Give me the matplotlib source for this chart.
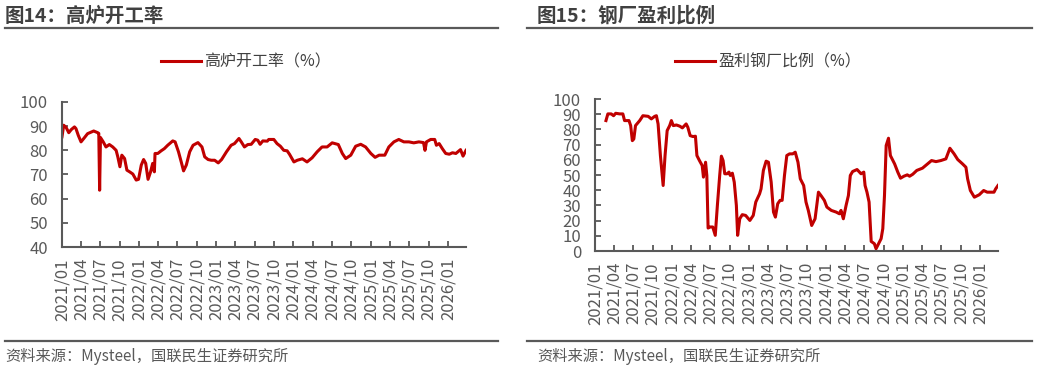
"""Blast furnace utilisation and share of profitable steel mills (two panels)."""

import matplotlib.pyplot as plt
import matplotlib.dates as mdates
import pandas as pd
from matplotlib.lines import Line2D

plt.rcParams["font.family"] = ["Noto Sans CJK SC", "DejaVu Sans"]

# ---- data ----
bf_dates = [
    "2021-01-01", "2021-01-09", "2021-01-21", "2021-02-02", "2021-02-14", "2021-03-01",
    "2021-03-08", "2021-03-19", "2021-04-01", "2021-04-14", "2021-05-02", "2021-05-31",
    "2021-06-19", "2021-06-24", "2021-06-28", "2021-07-02", "2021-07-15", "2021-07-28",
    "2021-08-13", "2021-08-29", "2021-09-14", "2021-09-22", "2021-10-02", "2021-10-11",
    "2021-10-24", "2021-11-04", "2021-11-17", "2021-12-02", "2021-12-18", "2021-12-29",
    "2022-01-11", "2022-01-22", "2022-02-01", "2022-02-12", "2022-02-24", "2022-03-06",
    "2022-03-14", "2022-03-17", "2022-03-30", "2022-04-15", "2022-04-30", "2022-05-16",
    "2022-06-09", "2022-06-20", "2022-07-06", "2022-07-19", "2022-07-30", "2022-08-12",
    "2022-08-28", "2022-09-13", "2022-10-06", "2022-10-25", "2022-11-07", "2022-11-23",
    "2022-12-08", "2022-12-24", "2023-01-10", "2023-01-26", "2023-02-18", "2023-03-12",
    "2023-03-28", "2023-04-18", "2023-04-29", "2023-05-14", "2023-05-30", "2023-06-15",
    "2023-07-04", "2023-07-16", "2023-07-27", "2023-08-09", "2023-08-30", "2023-09-06",
    "2023-09-30", "2023-10-15", "2023-10-31", "2023-11-16", "2023-12-02", "2023-12-13",
    "2024-01-03", "2024-01-19", "2024-02-12", "2024-03-05", "2024-03-29", "2024-04-22",
    "2024-05-15", "2024-06-08", "2024-07-02", "2024-07-31", "2024-08-19", "2024-09-04",
    "2024-09-28", "2024-10-21", "2024-11-14", "2024-12-07", "2025-01-01", "2025-01-21",
    "2025-02-09", "2025-03-08", "2025-03-27", "2025-04-20", "2025-05-13", "2025-06-06",
    "2025-06-30", "2025-07-23", "2025-08-16", "2025-09-07", "2025-09-14", "2025-09-21",
    "2025-10-11", "2025-10-30", "2025-11-07", "2025-11-20", "2025-12-05", "2025-12-21",
    "2026-01-07", "2026-01-22", "2026-02-07", "2026-03-01", "2026-03-13", "2026-03-27",
]
bf_rate = [
    85.6, 90.4, 89.4, 87.3, 88.6, 89.7,
    89.0, 86.2, 83.5, 84.9, 86.9, 88.0,
    87.3, 87.0, 63.5, 85.3, 83.5, 81.4,
    82.4, 81.4, 80.0, 77.3, 73.2, 78.0,
    76.6, 71.8, 71.1, 70.2, 67.7, 68.0,
    73.9, 76.2, 74.6, 68.0, 71.1, 74.6,
    71.1, 78.7, 78.7, 79.8, 80.7, 82.1,
    83.9, 83.5, 79.4, 75.2, 71.5, 73.9,
    79.4, 82.1, 83.2, 81.4, 77.3, 76.2,
    75.9, 75.9, 74.8, 76.2, 79.4, 82.1,
    82.8, 84.9, 83.5, 81.4, 82.4, 82.5,
    84.5, 84.2, 82.5, 83.9, 83.8, 84.5,
    84.5, 82.8, 81.7, 80.0, 79.8, 78.4,
    75.2, 75.9, 76.5, 75.2, 76.9, 79.4,
    81.4, 81.4, 83.1, 82.4, 78.7, 76.6,
    78.0, 81.7, 82.5, 81.4, 78.7, 77.1,
    78.0, 78.0, 81.4, 83.5, 84.5, 83.5,
    83.5, 83.1, 83.5, 83.2, 80.0, 83.5,
    84.5, 84.5, 82.1, 82.8, 80.7, 78.7,
    78.4, 79.0, 78.7, 80.3, 77.6, 80.0,
]

profit_dates = [
    "2021-02-22", "2021-03-03", "2021-03-19", "2021-03-30", "2021-04-09", "2021-04-28",
    "2021-05-13", "2021-05-21", "2021-06-11", "2021-06-19", "2021-06-27", "2021-07-04",
    "2021-07-12", "2021-08-01", "2021-08-16", "2021-09-10", "2021-09-25", "2021-10-11",
    "2021-10-19", "2021-10-27", "2021-11-07", "2021-11-20", "2021-11-29", "2021-12-09",
    "2021-12-21", "2021-12-29", "2022-01-07", "2022-01-22", "2022-02-07", "2022-02-19",
    "2022-03-09", "2022-03-17", "2022-03-28", "2022-04-10", "2022-04-22", "2022-04-29",
    "2022-05-11", "2022-05-24", "2022-05-30", "2022-06-09", "2022-06-15", "2022-06-21",
    "2022-07-01", "2022-07-13", "2022-07-25", "2022-08-04", "2022-08-15", "2022-08-23",
    "2022-08-31", "2022-09-08", "2022-09-19", "2022-09-28", "2022-10-04", "2022-10-14",
    "2022-10-23", "2022-11-02", "2022-11-08", "2022-11-18", "2022-11-30", "2022-12-16",
    "2023-01-05", "2023-01-21", "2023-02-02", "2023-02-13", "2023-02-20", "2023-02-27",
    "2023-03-10", "2023-03-23", "2023-04-03", "2023-04-16", "2023-04-27", "2023-05-06",
    "2023-05-17", "2023-05-28", "2023-06-07", "2023-06-18", "2023-06-29", "2023-07-12",
    "2023-07-27", "2023-08-08", "2023-08-21", "2023-09-01", "2023-09-17", "2023-09-28",
    "2023-10-09", "2023-10-25", "2023-11-10", "2023-11-26", "2023-12-08", "2023-12-24",
    "2024-01-05", "2024-01-26", "2024-02-18", "2024-03-04", "2024-03-12", "2024-03-23",
    "2024-04-05", "2024-04-16", "2024-04-25", "2024-05-06", "2024-05-27", "2024-06-15",
    "2024-06-28", "2024-07-04", "2024-07-13", "2024-07-23", "2024-08-02", "2024-08-17",
    "2024-08-25", "2024-09-06", "2024-09-18", "2024-09-26", "2024-10-04", "2024-10-12",
    "2024-10-23", "2024-11-01", "2024-11-21", "2024-12-06", "2024-12-19", "2025-01-04",
    "2025-01-20", "2025-01-31", "2025-02-15", "2025-03-06", "2025-04-02", "2025-04-26",
    "2025-05-15", "2025-06-05", "2025-06-28", "2025-07-22", "2025-08-10", "2025-08-30",
    "2025-09-16", "2025-10-09", "2025-10-25", "2025-11-02", "2025-11-15", "2025-12-04",
    "2025-12-27", "2026-01-17", "2026-02-03", "2026-02-21", "2026-03-07", "2026-03-15",
    "2026-03-26",
]
profit_share = [
    85.8, 90.2, 90.2, 89.0, 90.6, 90.2,
    90.2, 85.8, 85.8, 82.5, 72.6, 73.7,
    82.5, 85.8, 89.0, 88.6, 86.9, 88.6,
    89.0, 83.6, 62.8, 43.1, 62.8, 79.2,
    82.5, 85.8, 82.5, 82.9, 82.1, 81.0,
    83.6, 81.4, 75.9, 75.3, 75.5, 62.8,
    59.5, 56.2, 48.6, 58.4, 49.7, 15.1,
    15.8, 15.8, 10.3, 30.0, 49.7, 62.4,
    59.5, 50.8, 50.8, 51.9, 49.7, 51.2,
    45.3, 30.0, 10.3, 21.2, 23.9, 23.4,
    20.1, 23.4, 32.2, 35.4, 37.6, 40.9,
    53.0, 59.1, 58.4, 45.3, 25.6, 22.3,
    31.1, 33.3, 33.3, 49.7, 62.8, 63.9,
    63.9, 65.0, 58.4, 47.5, 43.1, 32.2,
    26.7, 16.8, 21.2, 38.7, 36.5, 33.3,
    28.9, 26.7, 25.6, 24.5, 26.7, 21.2,
    30.0, 36.5, 49.7, 52.3, 53.6, 50.8,
    51.9, 43.1, 38.7, 32.2, 6.3, 4.8,
    1.5, 4.8, 8.1, 14.7, 36.5, 69.4,
    74.2, 62.8, 57.3, 51.9, 47.9, 49.2,
    50.1, 49.2, 50.5, 53.0, 54.5, 57.3,
    59.5, 58.8, 59.5, 60.6, 67.6, 63.9,
    60.2, 57.3, 55.1, 47.5, 39.8, 35.4,
    37.0, 39.8, 38.7, 38.7, 38.7, 40.9,
    43.1,
]

titles = ["图14：高炉开工率", "图15：钢厂盈利比例"]
legend_labels = ["高炉开工率（%）", "盈利钢厂比例（%）"]
source_text = "资料来源：Mysteel，国联民生证券研究所"

RED = "#C00000"
GRAY = "#595959"
DARK = "#404040"
W, H = 1037, 371


def fx(px):
    return px / W


def fy(py):
    return 1 - py / H


def style_axes(ax, ylim, yticks, start, end):
    ax.set_xlim(pd.Timestamp(start), pd.Timestamp(end))
    ax.set_ylim(*ylim)
    ax.set_yticks(yticks)
    ax.xaxis.set_major_locator(mdates.MonthLocator(bymonth=[1, 4, 7, 10]))
    ax.xaxis.set_major_formatter(mdates.DateFormatter("%Y/%m"))
    for side in ("top", "right"):
        ax.spines[side].set_visible(False)
    for side in ("left", "bottom"):
        ax.spines[side].set_color(GRAY)
        ax.spines[side].set_linewidth(1.5)
    ax.tick_params(axis="both", direction="in", length=4, width=1.3, color=GRAY,
                   labelcolor=GRAY, labelsize=12)
    ax.tick_params(axis="y", pad=10)
    ax.tick_params(axis="x", pad=8)
    for lab in ax.get_xticklabels():
        lab.set_rotation(90)


fig = plt.figure(figsize=(W / 100, H / 100), dpi=100)

# left panel
ax1 = fig.add_axes([fx(62), fy(247), fx(466 - 62), fy(102) - fy(247)])
ax1.plot(pd.to_datetime(bf_dates), bf_rate, color=RED, lw=2.2, label=legend_labels[0])
style_axes(ax1, (40, 100), range(40, 101, 10), "2021-01-01", bf_dates[-1])
ax1.legend(loc="center", bbox_to_anchor=(fx(246), fy(62)), bbox_transform=fig.transFigure,
           frameon=False, fontsize=11.5, handlelength=2.5, handletextpad=0.2,
           labelcolor=DARK)

# right panel
ax2 = fig.add_axes([fx(595), fy(251), fx(998 - 595), fy(99) - fy(251)])
ax2.plot(pd.to_datetime(profit_dates), profit_share, color=RED, lw=2.2,
         label=legend_labels[1])
style_axes(ax2, (0, 100), range(0, 101, 10), "2021-01-01", profit_dates[-1])
ax2.legend(loc="center", bbox_to_anchor=(fx(768), fy(62)), bbox_transform=fig.transFigure,
           frameon=False, fontsize=11.5, handlelength=2.5, handletextpad=0.2,
           labelcolor=DARK)

# titles, rules and source notes
for (x0, x1, tx), title in zip([(5, 498, 5), (527, 1032, 537)], titles):
    fig.text(fx(tx), fy(16), title, fontsize=14, fontweight="bold", color=DARK,
             ha="left", va="center")
    fig.add_artist(Line2D([fx(x0), fx(x1)], [fy(28), fy(28)], color=GRAY, lw=1.6))
    fig.add_artist(Line2D([fx(x0), fx(x1)], [fy(341), fy(341)], color=GRAY, lw=1.6))
    fig.text(fx(tx), fy(356), source_text, fontsize=11, color=GRAY,
             ha="left", va="center")

fig.savefig("out.png", dpi=100)
plt.close(fig)
